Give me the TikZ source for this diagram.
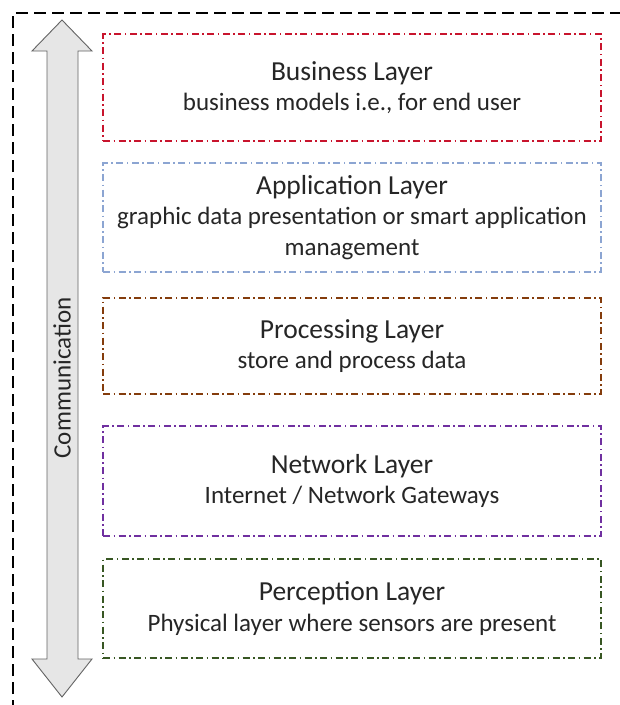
\documentclass[tikz,border=0pt]{standalone}
\usepackage{fontspec}
\setmainfont{Carlito}
\definecolor{bizred}{RGB}{200,20,45}
\definecolor{appblue}{RGB}{140,165,210}
\definecolor{procbrown}{RGB}{132,60,12}
\definecolor{netpurple}{RGB}{112,48,160}
\definecolor{percgreen}{RGB}{56,87,35}
\definecolor{arrowfill}{RGB}{230,230,230}
\definecolor{arrowline}{RGB}{100,100,100}
\begin{document}
\begin{tikzpicture}[x=1pt,y=-1pt,
  layerbox/.style={draw, line width=1.5pt,
    dash pattern=on 7pt off 3.5pt on 1.5pt off 3.5pt,
    minimum width=498pt, inner sep=0pt, align=center,
    font=\fontsize{25}{30.5}\selectfont, text=black!85},
  frame/.style={line width=1.6pt, dash pattern=on 12pt off 6pt},
  commarrow/.style={fill=arrowfill, draw=arrowline, line width=0.9pt}]
\newcommand{\ttlfont}{\fontsize{27.5}{30.5}\selectfont}
\useasboundingbox (0,0) rectangle (620,705);
\fill[white] (0,0) rectangle (620,705);
\clip (0,0) rectangle (620,705);
% outer frame (extends past right and bottom edges)
\coordinate (fbl) at (13,730);
\coordinate (ftl) at (13,13);
\coordinate (ftr) at (650,13);
\draw[frame] (fbl) -- (ftl) -- (ftr);
% communication double arrow
\draw[commarrow] (62,20) -- (92,51) -- (78,51) -- (78,659) -- (92,659)
  -- (62,697) -- (32,659) -- (47,659) -- (47,51) -- (32,51) -- cycle;
\node[rotate=90, font=\fontsize{25}{26}\selectfont, text=black!85] (comm) at (62,378) {Communication};
% layers
\node[layerbox, draw=bizred, minimum height=107pt] (business) at (352,87.5)
  {{\ttlfont Business Layer}\\business models i.e., for end user};
\node[layerbox, draw=appblue, minimum height=109pt] (application) at (352,217.5)
  {{\ttlfont Application Layer}\\graphic data presentation or smart application\\management};
\node[layerbox, draw=procbrown, minimum height=96pt] (processing) at (352,346)
  {{\ttlfont Processing Layer}\\store and process data};
\node[layerbox, draw=netpurple, minimum height=110pt] (network) at (352,481)
  {{\ttlfont Network Layer}\\Internet / Network Gateways};
\node[layerbox, draw=percgreen, minimum height=99pt] (perception) at (352,608.5)
  {{\ttlfont Perception Layer}\\Physical layer where sensors are present};
\end{tikzpicture}
\end{document}
